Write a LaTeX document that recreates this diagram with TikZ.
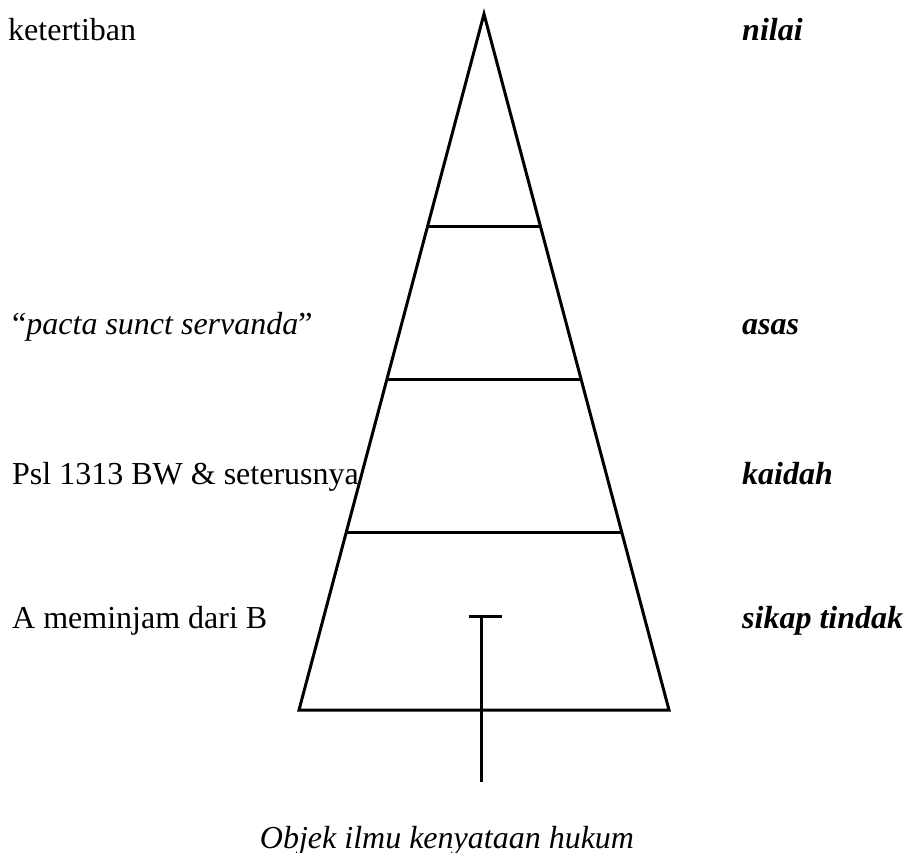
\documentclass[tikz,border=0pt]{standalone}
\usepackage{fontspec}
\setmainfont{Liberation Serif}
\tikzset{
  edge/.style={line width=3pt, line join=miter, line cap=butt},
  leftlabel/.style={anchor=base west, inner sep=0pt, font=\fontsize{32}{38}\selectfont},
  rightlabel/.style={anchor=base west, inner sep=0pt, font=\fontsize{32}{38}\selectfont\bfseries\itshape},
  caption/.style={anchor=base, inner sep=0pt, font=\fontsize{32}{38}\selectfont\itshape},
}
\begin{document}
\begin{tikzpicture}[x=1pt, y=-1pt]
  \useasboundingbox (0,0) rectangle (905,852);
  % the pyramid
  \coordinate (apex) at (484,14);
  \coordinate (bl) at (299,710);
  \coordinate (br) at (669,710);
  \draw[edge] (bl) -- (apex) -- (br) -- cycle;
  % tier boundaries
  \foreach \y/\n in {226/a, 380/b, 532/c} {
    \path (apex) -- (bl) coordinate[pos={(\y-14)/696}] (l\n);
    \path (apex) -- (br) coordinate[pos={(\y-14)/696}] (r\n);
    \draw[edge] (l\n) -- (r\n);
  }
  % the object marker
  \coordinate (ttop) at (481,616);
  \coordinate (tbot) at (481,782);
  \coordinate (barl) at (469,616);
  \coordinate (barr) at (502,616);
  \draw[edge] (barl) -- (barr);
  \draw[edge] (ttop) -- (tbot);
  % left column
  \node[leftlabel] (k1) at (8,40) {ketertiban};
  \node[leftlabel] (k2) at (12,334) {“\textit{pacta sunct servanda}”};
  \node[leftlabel] (k3) at (12,484) {Psl 1313 BW \& seterusnya};
  \node[leftlabel] (k4) at (12,628) {A meminjam dari B};
  % right column
  \node[rightlabel] (n1) at (742,40) {nilai};
  \node[rightlabel] (n2) at (742,334) {asas};
  \node[rightlabel] (n3) at (742,484) {kaidah};
  \node[rightlabel] (n4) at (742,628) {sikap tindak};
  % caption
  \node[caption] (cap) at (447,848) {Objek ilmu kenyataan hukum};
\end{tikzpicture}
\end{document}
